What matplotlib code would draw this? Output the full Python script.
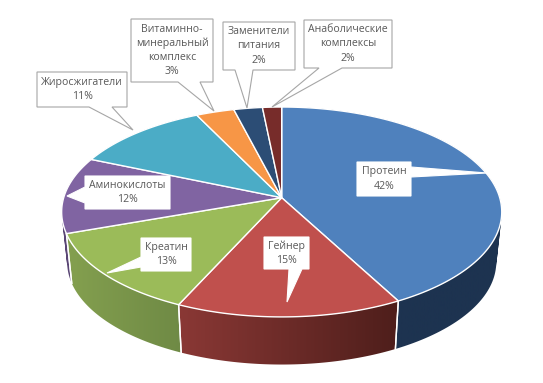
import numpy as np
import matplotlib
matplotlib.use("Agg")
import matplotlib.pyplot as plt
from matplotlib.colors import to_rgb
from matplotlib.patches import PathPatch, Polygon
from matplotlib.path import Path

# chart data, the labels show these rounded
names = ["Протеин", "Гейнер", "Креатин", "Аминокислоты", "Жиросжигатели",
         "Витаминно-\nминеральный\nкомплекс", "Заменители\nпитания",
         "Анаболические\nкомплексы"]
shares = [42.2, 14.6, 12.8, 11.8, 11.4, 3.2, 2.4, 1.6]

# colours
top_colors = ["#4f81bd", "#c0504d", "#9bbb59", "#8064a2", "#4bacc6", "#f79646", "#2c4d75", "#772c2a"]
side_left = ["#1d3350", "#8a3835", "#84a04f", "#5a4675", "#31788c", "#ad6830", "#1d3350", "#521e1d"]
side_right = ["#1d3350", "#4e1e1b", "#6f8a45", "#5a4675", "#31788c", "#ad6830", "#1d3350", "#521e1d"]

# label boxes in pixels: x0, x1, y0, y1, then pointer base a, base b, tip
boxes = [
    (357, 411, 162, 196, (411, 167), (411, 177), (487, 173)),
    (264, 309, 237, 269, (302, 269), (289, 269), (287, 302)),
    (141, 191, 238, 271, (141, 267), (141, 257), (107, 273)),
    (85, 170, 176, 209, (85, 203), (85, 187), (67, 196)),
    (37, 127, 72, 107, (112, 107), (89, 107), (133, 130)),
    (131, 213, 19, 82, (200, 82), (178, 82), (214, 111)),
    (223, 295, 22, 70, (253, 70), (235, 70), (247, 108)),
    (304, 392, 20, 68, (342, 68), (319, 68), (272, 107)),
]
outlined = [False, False, False, False, True, True, True, True]

# perspective of the pie disc
cx, cy = 281.7, 197.7
rx, ry, k = 218.0, 103.0, 0.136
depth, shrink = 50.6, 0.975


def project(t, bottom=False):
    s, c = np.cos(t), np.sin(t)
    x = rx * c / (1 + k * s)
    y = -ry * s / (1 + k * s)
    if bottom:
        return cx + shrink * x, cy + depth + shrink * y
    return cx + x, cy + y


def swept_path(xt, yt, xb, yb):
    # strips between the two rims, all wound the same way so they merge when filled
    polys = []
    for j in range(len(xt) - 1):
        q = np.array([(xt[j], yt[j]), (xt[j + 1], yt[j + 1]), (xb[j + 1], yb[j + 1]), (xb[j], yb[j])])
        area = np.sum(q[:, 0] * np.roll(q[:, 1], -1) - np.roll(q[:, 0], -1) * q[:, 1])
        polys.append(q if area > 0 else q[::-1])
    return Path.make_compound_path(*[Path(np.r_[q, q[:1]], closed=True) for q in polys])


fig = plt.figure(figsize=(5.43, 3.83), dpi=100)
ax = fig.add_axes([0, 0, 1, 1])

edges = np.concatenate([[0], np.cumsum(shares)]) / sum(shares) * 2 * np.pi

# sides first, back slices before front ones
for i in [4, 5, 6, 7, 3, 0, 2, 1]:
    t = np.linspace(edges[i], edges[i + 1], 120)
    xt, yt = project(t)
    xb, yb = project(t, bottom=True)
    grad = np.linspace(to_rgb(side_left[i]), to_rgb(side_right[i]), 256)[None, :, :]
    x_lo = min(xt.min(), xb.min())
    x_hi = max(xt.max(), xb.max())
    im = ax.imshow(grad, extent=(x_lo, x_hi, 383, 0), aspect="auto", zorder=1)
    im.set_clip_path(PathPatch(swept_path(xt, yt, xb, yb), transform=ax.transData))
    ax.plot([xt[0], xb[0]], [yt[0], yb[0]], color="white", lw=1.0, zorder=1.5)
    ax.plot([xt[-1], xb[-1]], [yt[-1], yb[-1]], color="white", lw=1.0, zorder=1.5)

# top of the disc
for i, col in enumerate(top_colors):
    t = np.linspace(edges[i], edges[i + 1], 200)
    xt, yt = project(t)
    ax.fill(np.r_[cx, xt], np.r_[cy, yt], facecolor=col, edgecolor="white", lw=1.0, zorder=2)

# callouts
for i, b in enumerate(boxes):
    x0, x1, y0, y1, pa, pb, tip = b
    if i == 0:
        outline = [(x0, y0), (x1, y0), pa, tip, pb, (x1, y1), (x0, y1)]
    elif i in (1, 4, 5, 6, 7):
        outline = [(x0, y0), (x1, y0), (x1, y1), pa, tip, pb, (x0, y1)]
    else:
        outline = [(x0, y0), (x1, y0), (x1, y1), (x0, y1), pa, tip, pb]
    edge = "#a6a6a6" if outlined[i] else "white"
    ax.add_patch(Polygon(outline, closed=True, facecolor="white", edgecolor=edge, lw=0.8, zorder=3))
    ax.text((x0 + x1) / 2, (y0 + y1) / 2, f"{names[i]}\n{shares[i]:.0f}%", ha="center", va="center",
            family="Open Sans", fontsize=7.6, color="#595959", linespacing=1.38, zorder=4)

ax.set_xlim(0, 543)
ax.set_ylim(383, 0)
ax.axis("off")
fig.savefig("out.png", dpi=100, facecolor="white")
